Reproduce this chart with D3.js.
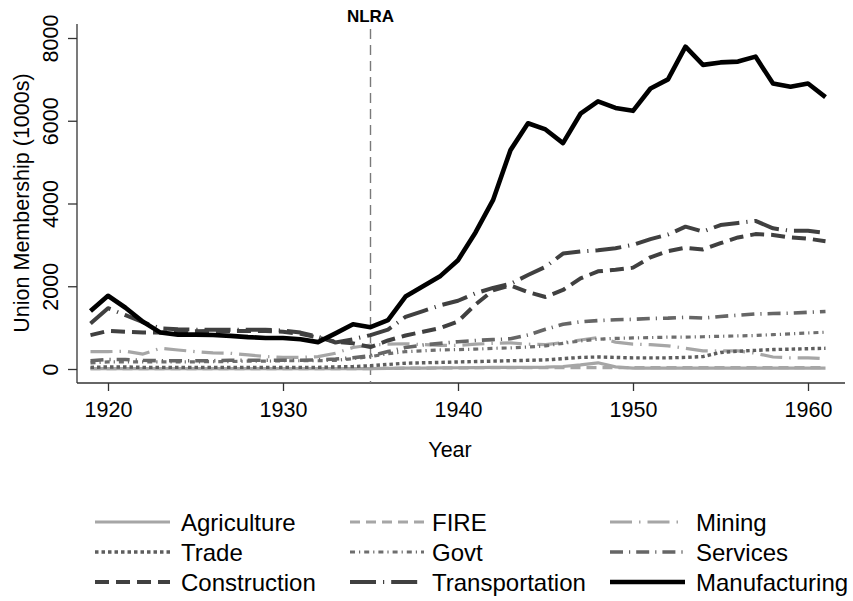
<!DOCTYPE html>
<html>
<head>
<meta charset="utf-8">
<script src="https://cdn.jsdelivr.net/npm/d3@7"></script>
<style>
  html, body { margin: 0; padding: 0; background: #fff; }
  text { font-family: "Liberation Sans", Arial, Helvetica, sans-serif; }
</style>
</head>
<body>
<svg id="chart" width="853" height="601"></svg>
<script>
const years = d3.range(1919, 1962);

const agriculture = [10,10,10,10,10,10,10,10,10,10,10,10,10,10,10,10,10,15,20,20,25,30,35,40,40,40,45,60,100,150,50,20,20,20,20,20,20,20,20,20,20,20,20];
const fire = [10,10,10,10,10,10,10,10,10,10,10,10,10,10,10,10,10,15,20,20,25,25,30,30,30,30,30,35,35,35,35,35,35,35,35,35,35,35,35,35,35,35,35];
const mining = [420,420,430,360,500,460,420,390,380,340,300,280,280,300,380,520,580,600,610,590,570,570,600,620,630,600,590,640,700,760,650,600,590,560,500,440,440,440,380,290,270,270,250];
const trade = [40,50,50,40,40,40,40,40,40,40,40,40,40,40,50,60,80,110,140,150,160,170,180,190,200,210,220,250,280,290,280,270,270,270,280,300,400,430,450,470,480,490,500];
const govt = [150,170,170,170,170,170,170,180,180,190,190,200,200,200,210,250,300,370,420,440,460,470,480,500,510,530,560,620,680,720,740,750,760,770,770,780,790,800,810,830,850,870,890];
const services = [200,230,230,210,200,200,200,200,210,210,210,210,210,220,240,270,320,420,520,580,620,660,690,710,730,820,960,1080,1140,1170,1190,1200,1220,1230,1250,1230,1270,1300,1330,1340,1350,1370,1390];
const construction = [820,920,900,880,880,900,910,920,920,920,920,900,850,760,660,620,530,690,810,900,990,1150,1560,1900,2020,1860,1740,1910,2190,2360,2400,2450,2700,2850,2930,2890,3040,3180,3260,3240,3180,3150,3090];
const transportation = [1100,1470,1300,1130,980,960,950,950,950,950,950,930,880,780,640,720,820,950,1260,1400,1540,1650,1830,1960,2060,2270,2470,2790,2840,2870,2920,3000,3140,3250,3440,3320,3480,3530,3580,3400,3340,3340,3290];
const manufacturing = [1400,1770,1480,1140,880,830,830,820,800,770,750,750,720,650,860,1080,1010,1180,1750,2000,2250,2630,3300,4080,5290,5940,5790,5460,6170,6470,6310,6240,6780,7000,7790,7350,7410,7430,7550,6900,6820,6900,6570];

const xTicks = [1920, 1930, 1940, 1950, 1960];
const yTicks = [0, 2000, 4000, 6000, 8000];
const nlraYear = 1935;

const seriesNames = ["Agriculture","FIRE","Mining","Trade","Govt","Services","Construction","Transportation","Manufacturing"];
const seriesValues = [agriculture, fire, mining, trade, govt, services, construction, transportation, manufacturing];

const styles = {
  Agriculture:    {color: "#a6a6a6", width: 3.2, dash: null},
  FIRE:           {color: "#a6a6a6", width: 3.2, dash: "10,6"},
  Mining:         {color: "#a6a6a6", width: 3.2, dash: "22,7,1.5,7"},
  Trade:          {color: "#5e5e5e", width: 3.4, dash: "3.5,3"},
  Govt:           {color: "#6e6e6e", width: 3.2, dash: "5,4,1.2,4"},
  Services:       {color: "#666666", width: 3.6, dash: "13,6,1.2,6"},
  Construction:   {color: "#404040", width: 4.0, dash: "14,7"},
  Transportation: {color: "#404040", width: 4.0, dash: "26,7,1.2,7"},
  Manufacturing:  {color: "#000000", width: 4.6, dash: null}
};

const svg = d3.select("#chart");
const x = d3.scaleLinear().domain([1920, 1960]).range([108, 808]);
const y = d3.scaleLinear().domain([0, 8000]).range([369, 38]);

const axisLeftX = 77, axisBottomY = 383, axisTopY = 24, axisRightX = 845;

// axis lines
svg.append("line").attr("x1", axisLeftX).attr("x2", axisLeftX).attr("y1", axisTopY).attr("y2", axisBottomY)
  .attr("stroke", "#333").attr("stroke-width", 1.3);
svg.append("line").attr("x1", axisLeftX).attr("x2", axisRightX).attr("y1", axisBottomY).attr("y2", axisBottomY)
  .attr("stroke", "#333").attr("stroke-width", 1.3);

// x axis ticks
const gx = svg.append("g").attr("transform", `translate(0,${axisBottomY})`)
  .call(d3.axisBottom(x).tickValues(xTicks).tickFormat(d3.format("d")).tickSize(8).tickSizeOuter(0).tickPadding(4));
gx.select(".domain").remove();
gx.selectAll(".tick line").attr("stroke", "#333").attr("stroke-width", 1.3);
gx.selectAll(".tick text").attr("font-size", 21.5).attr("fill", "#000")
  .attr("font-family", "Liberation Sans, Arial, sans-serif").attr("dy", null).attr("y", 34);

// y axis ticks
const gy = svg.append("g").attr("transform", `translate(${axisLeftX},0)`)
  .call(d3.axisLeft(y).tickValues(yTicks).tickFormat(d3.format("d")).tickSize(9).tickSizeOuter(0));
gy.select(".domain").remove();
gy.selectAll(".tick line").attr("stroke", "#333").attr("stroke-width", 1.3);
gy.selectAll(".tick text").attr("font-size", 21.5).attr("fill", "#000")
  .attr("font-family", "Liberation Sans, Arial, sans-serif")
  .attr("x", 0).attr("y", 0).attr("dy", null)
  .attr("text-anchor", "middle")
  .attr("transform", "translate(-19,0) rotate(-90)");

// axis titles
svg.append("text").attr("x", 450).attr("y", 457).attr("text-anchor", "middle")
  .attr("font-size", 21.5).text("Year");
svg.append("text").attr("transform", "translate(29,203) rotate(-90)").attr("text-anchor", "middle")
  .attr("font-size", 21.5).text("Union Membership (1000s)");

// NLRA line
svg.append("line").attr("x1", x(nlraYear)).attr("x2", x(nlraYear)).attr("y1", 29).attr("y2", axisBottomY)
  .attr("stroke", "#7a7a7a").attr("stroke-width", 1.4).attr("stroke-dasharray", "10,6");
svg.append("text").attr("x", x(nlraYear)).attr("y", 22).attr("text-anchor", "middle")
  .attr("font-size", 17).attr("font-weight", "bold").text("NLRA");

// series
const line = d3.line().x((d, i) => x(years[i])).y(d => y(d));
seriesNames.forEach((name, k) => {
  const s = styles[name];
  svg.append("path").datum(seriesValues[k])
    .attr("d", line).attr("fill", "none")
    .attr("stroke", s.color).attr("stroke-width", s.width)
    .attr("stroke-dasharray", s.dash)
    .attr("stroke-linejoin", "round");
});

// legend
const legendOrder = [["Agriculture","FIRE","Mining"],["Trade","Govt","Services"],["Construction","Transportation","Manufacturing"]];
const colSample = [[95, 170], [350, 424], [610, 685]];
const colText = [181, 432, 696];
const rowY = [522, 552, 582];
legendOrder.forEach((row, r) => {
  row.forEach((name, c) => {
    const s = styles[name];
    svg.append("line").attr("x1", colSample[c][0]).attr("x2", colSample[c][1])
      .attr("y1", rowY[r]).attr("y2", rowY[r])
      .attr("stroke", s.color).attr("stroke-width", s.width).attr("stroke-dasharray", s.dash);
    svg.append("text").attr("x", colText[c]).attr("y", rowY[r] + 8.5)
      .attr("font-size", 24).attr("fill", "#000").text(name);
  });
});
</script>
</body>
</html>
